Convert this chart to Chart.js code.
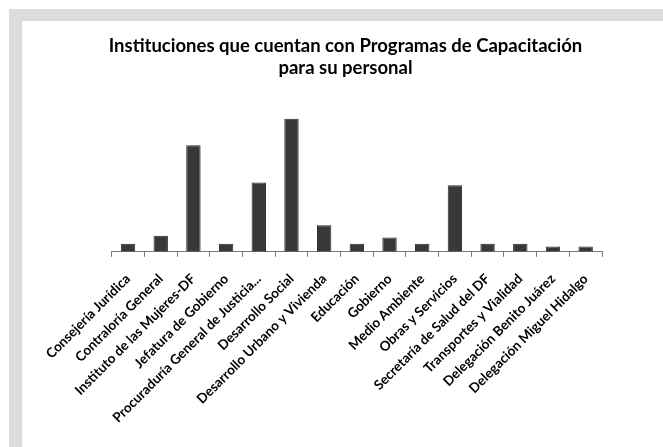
<!DOCTYPE html>
<html>
<head>
<meta charset="utf-8">
<script src="https://cdn.jsdelivr.net/npm/chart.js@4"></script>
<style>
  html, body { margin: 0; padding: 0; background: #fff; overflow: hidden; }
  #frame {
    position: absolute; left: 9px; top: 9px; width: 654px; height: 438px;
    border-top: 12px solid #dcdcdc; border-left: 13px solid #dcdcdc;
    box-sizing: border-box; background: #fff;
  }
  #box { position: absolute; left: 0; top: 0; width: 641px; height: 426px; }
</style>
</head>
<body>
<div id="frame"><div id="box"><canvas id="chart"></canvas></div></div>
<script>
// data
const institutions = [
  "Consejería Jurídica", "Contraloría General", "Instituto de las Mujeres-DF",
  "Jefatura de Gobierno", "Procuraduría General de Justicia...", "Desarrollo Social",
  "Desarrollo Urbano y Vivienda", "Educación", "Gobierno", "Medio Ambiente",
  "Obras y Servicios", "Secretaría de Salud del DF", "Transportes y Vialidad",
  "Delegación Benito Juárez", "Delegación Miguel Hidalgo"
];
const programCounts = [3, 6, 40, 3, 26, 50, 10, 3, 5.4, 3, 25, 3, 3, 2, 2];
const titleLines = ["Instituciones que cuentan con Programas de Capacitación", "para su personal"];

const ctx = document.getElementById("chart").getContext("2d");
new Chart(ctx, {
  type: "bar",
  data: {
    labels: institutions,
    datasets: [{
      data: programCounts,
      backgroundColor: "#383838",
      borderColor: "#2c2c2c",
      borderWidth: 1,
      categoryPercentage: 1,
      barPercentage: 0.44
    }]
  },
  options: {
    responsive: true,
    maintainAspectRatio: false,
    animation: false,
    layout: { padding: { left: 67, right: 61, top: 0, bottom: 7 } },
    plugins: {
      legend: { display: false },
      tooltip: { enabled: false },
      title: {
        display: true,
        text: titleLines,
        color: "#000",
        font: { family: "Lato", size: 18.5, weight: "bold", lineHeight: 1.19 },
        padding: { top: 14, bottom: 13 }
      }
    },
    scales: {
      // y axis is hidden in the original, kept only to hold the left margin
      y: {
        min: 0, max: 60,
        grid: { display: false },
        border: { display: false },
        ticks: { display: false },
        afterFit: (scale) => { scale.width = 22.7; }
      },
      x: {
        grid: { drawOnChartArea: false, drawTicks: true, tickLength: 5, color: "#7a7a7a" },
        border: { color: "#7a7a7a", width: 1 },
        ticks: {
          color: "#000",
          minRotation: 45, maxRotation: 45,
          autoSkip: false,
          padding: 14,
          font: { family: "Lato", size: 13.5, weight: "bold" }
        }
      }
    }
  }
});
</script>
</body>
</html>
